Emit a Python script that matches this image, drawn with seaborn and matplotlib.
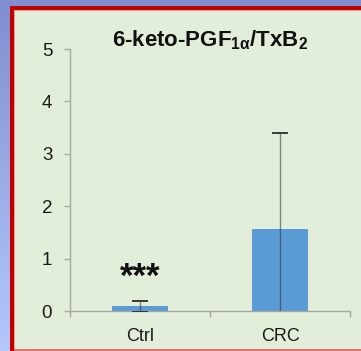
import numpy as np
import matplotlib
matplotlib.use("Agg")
import matplotlib.pyplot as plt
from matplotlib.patches import Rectangle
import seaborn as sns

# Data
categories = ["Ctrl", "CRC"]
means = [0.09, 1.57]
sds = [0.11, 1.82]
y_ticks = [0, 1, 2, 3, 4, 5]

sns.set_theme(style="white")
plt.rcParams["font.family"] = ["Liberation Sans", "DejaVu Sans"]
plt.rcParams["mathtext.fontset"] = "custom"
plt.rcParams["mathtext.rm"] = "Liberation Sans"
plt.rcParams["mathtext.bf"] = "Liberation Sans:bold"
plt.rcParams["mathtext.it"] = "Liberation Sans:italic"

W, H = 361, 351
fig = plt.figure(figsize=(W / 100, H / 100), dpi=100)

# Slide-style background: blue vertical gradient with a framed green panel
bg = fig.add_axes([0, 0, 1, 1], zorder=0)
top_c = np.array([0x80, 0x8E, 0xD0]) / 255
bot_c = np.array([0xB4, 0xC8, 0xFC]) / 255
t = np.linspace(0, 1, 256)[:, None, None]
grad = top_c * (1 - t) + bot_c * t
grad = np.repeat(grad, 2, axis=1)
bg.imshow(grad, extent=[0, W, H, 0], aspect="auto", interpolation="bilinear")
bg.set_xlim(0, W)
bg.set_ylim(H, 0)
bg.axis("off")
bg.add_patch(Rectangle((14, 10), W - 14, 339, color="#E3EEDA", lw=0))
bg.add_patch(Rectangle((10, 6), 4, H - 6, color="#C00000", lw=0))
bg.add_patch(Rectangle((10, 6), W - 10, 4, color="#C00000", lw=0))
bg.add_patch(Rectangle((14, 10), 1, 339, color="#E8A090", lw=0))
bg.add_patch(Rectangle((14, 10), W - 14, 1, color="#E8A090", lw=0))
bg.add_patch(Rectangle((14, 349), W - 14, 2, color="#E07068", lw=0))

# Chart axes
ax = fig.add_axes([70 / W, (H - 311) / H, 280 / W, 262 / H], zorder=1)
ax.set_facecolor("none")

bar_color = "#5B9BD5"
sns.barplot(x=categories, y=means, ax=ax, color=bar_color, width=0.4,
            errorbar=None, saturation=1, linewidth=0)
_, caps, stems = ax.errorbar(range(len(categories)), means, yerr=sds,
                             fmt="none", ecolor="#2e2e2e", elinewidth=1.0,
                             capsize=5.5, capthick=1.3, zorder=3)
for s in stems:
    s.set_alpha(0.55)

ax.set_xlim(-0.5, 1.5)
ax.set_ylim(0, 5)
ax.set_yticks(y_ticks)
ax.set_yticklabels([str(v) for v in y_ticks])
ax.set_xlabel("")
ax.set_ylabel("")

axis_gray = "#A6A6A6"
for side in ["top", "right"]:
    ax.spines[side].set_visible(False)
for side in ["left", "bottom"]:
    ax.spines[side].set_color(axis_gray)
    ax.spines[side].set_linewidth(1.0)

ax.tick_params(axis="y", direction="out", length=4.3, width=1.0,
               color=axis_gray, labelsize=13.5, labelcolor="#1a1a1a", pad=8.5,
               left=True)
ax.tick_params(axis="x", which="major", length=0, labelsize=13,
               labelcolor="#1a1a1a", pad=12.5)
ax.set_xticks([-0.5, 0.5, 1.5], minor=True)
ax.tick_params(axis="x", which="minor", direction="out", length=4.6,
               width=1.0, color=axis_gray, bottom=True)

# Title
ax.text(0.5, 1.0 + 3 / 262, r"6-keto-PGF$_{\mathbf{1\alpha}}$/TxB$_{\mathbf{2}}$",
        transform=ax.transAxes, ha="center", va="baseline",
        fontsize=16, fontweight="bold", color="#111111")

# Significance mark
ax.text(0, 0.47, "***", ha="center", va="baseline", fontsize=25,
        fontweight="bold", color="#111111")

fig.savefig("out.png", dpi=100)
